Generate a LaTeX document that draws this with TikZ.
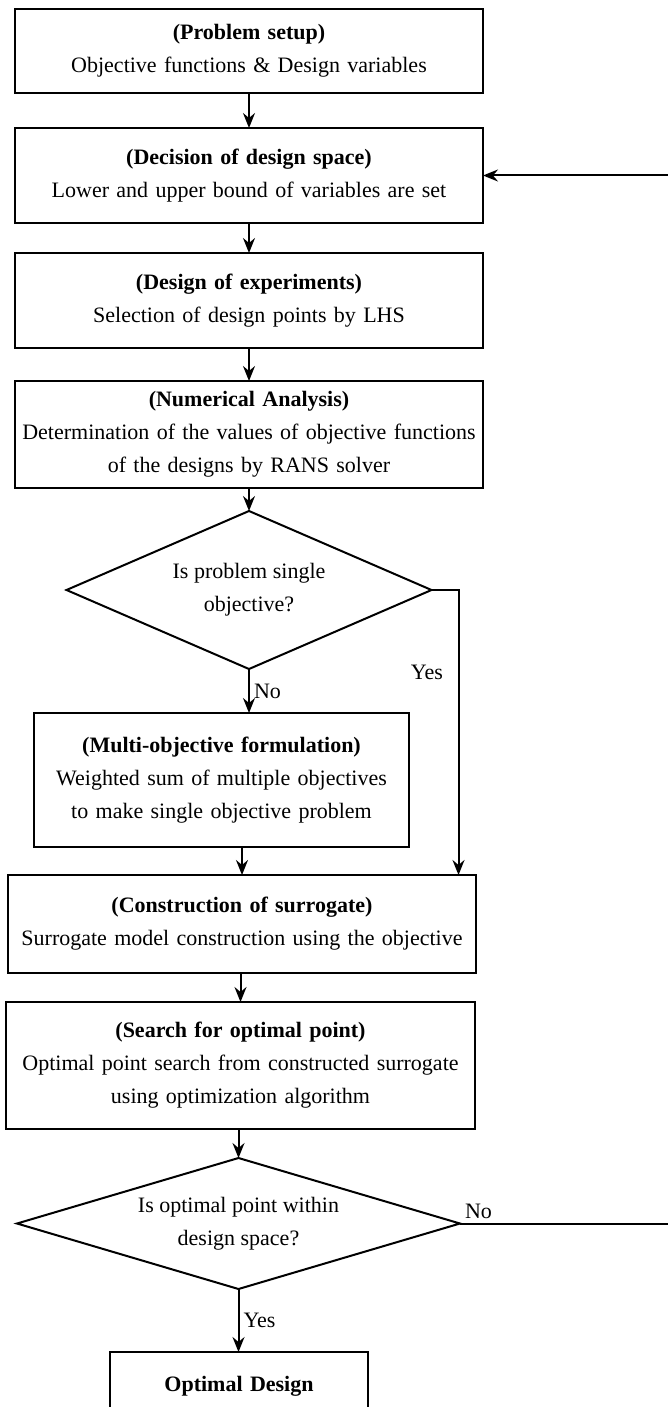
\documentclass[tikz,border=0pt]{standalone}
\usepackage{fontspec}
\setmainfont{Liberation Serif}
\usepackage{tikz}
\usetikzlibrary{arrows.meta,positioning,shapes.geometric}
\tikzset{
  stepbox/.style={
    rectangle, draw=black, line width=1pt, inner sep=3pt, outer sep=0pt,
    text width=228pt, align=center, minimum height=47.5pt,
    font=\fontsize{11}{16.5}\selectfont
  },
  decision/.style={
    diamond, draw=black, line width=1pt, inner sep=0pt, outer sep=0pt,
    align=center, font=\fontsize{11}{16.5}\selectfont
  },
  flowarrow/.style={-{Stealth[length=7.5pt,width=6pt,inset=2.5pt]}, line width=1pt},
  flowline/.style={line width=1pt},
  branchlabel/.style={font=\fontsize{11}{16.5}\selectfont},
}
\begin{document}
\begin{tikzpicture}
  \useasboundingbox (0,0) rectangle (334pt,-703.5pt);
  \coordinate (redge) at (334pt,0);

  \node[stepbox, minimum height=42pt] (setup) at (124.5pt,-25.5pt) {\textbf{(Problem setup)}\\ Objective functions \& Design variables};
  \node[stepbox, below=17.5pt of setup] (space) {\textbf{(Decision of design space)}\\ Lower and upper bound of variables are set};
  \node[stepbox, below=15pt of space] (doe) {\textbf{(Design of experiments)}\\ Selection of design points by LHS};
  \node[stepbox, minimum height=53.5pt, below=16.5pt of doe] (rans) {\textbf{(Numerical Analysis)}\\ Determination of the values of objective functions\\ of the designs by RANS solver};
  \node[decision, aspect=2.3, minimum width=182.5pt, minimum height=79pt, below=11.5pt of rans] (single) {Is problem single\\ objective?};
  \node[stepbox, text width=181.5pt, minimum height=67pt, below=22pt of single, xshift=-13.75pt] (multi) {\textbf{(Multi-objective formulation)}\\ Weighted sum of multiple objectives\\ to make single objective problem};
  \node[stepbox, minimum height=49pt, below=14pt of multi, xshift=10.25pt] (surr) {\textbf{(Construction of surrogate)}\\ Surrogate model construction using the objective};
  \node[stepbox, text width=228.5pt, minimum height=63.5pt, below=14.5pt of surr, xshift=-0.75pt] (search) {\textbf{(Search for optimal point)}\\ Optimal point search from constructed surrogate\\ using optimization algorithm};
  \node[decision, aspect=3.4, minimum width=221.5pt, minimum height=65.5pt, below=14.5pt of search, xshift=-1pt] (inside) {Is optimal point within\\ design space?};
  \node[stepbox, text width=123pt, minimum height=34pt, below=31.5pt of inside, xshift=0.25pt] (optimum) {\textbf{Optimal Design}};

  \coordinate[right=13.5pt of single.east] (yesturn);

  \draw[flowarrow] (setup.south) -- (setup.south |- space.north);
  \draw[flowarrow] (space.south) -- (space.south |- doe.north);
  \draw[flowarrow] (doe.south) -- (doe.south |- rans.north);
  \draw[flowarrow] (rans.south -| single.north) -- (single.north);
  \draw[flowarrow] (single.south) -- node[right, branchlabel, inner sep=2pt]{No} (single.south |- multi.north);
  \draw[flowarrow] (single.east) -- (yesturn) -- node[pos=0.29, left=4pt, branchlabel]{Yes} (yesturn |- surr.north);
  \draw[flowarrow] (surr.north |- multi.south) -- (surr.north);
  \draw[flowarrow] (search.north |- surr.south) -- (search.north);
  \draw[flowarrow] (inside.north |- search.south) -- (inside.north);
  \draw[flowarrow] (inside.south) -- node[right, branchlabel, inner sep=2pt]{Yes} (inside.south |- optimum.north);
  \draw[flowline] (inside.east) -- node[pos=0, above right, branchlabel, inner sep=2pt]{No} (inside.east -| redge);
  \draw[flowarrow] (space.east -| redge) -- (space.east);
\end{tikzpicture}
\end{document}
